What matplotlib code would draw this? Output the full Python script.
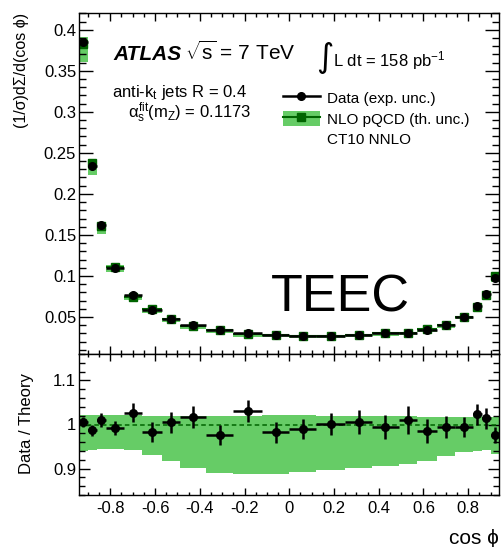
import numpy as np
import matplotlib
matplotlib.use("Agg")
import matplotlib.pyplot as plt
from matplotlib.lines import Line2D
from matplotlib.patches import Patch
from matplotlib.ticker import MultipleLocator, FormatStrFormatter

plt.rcParams['font.family'] = ['Liberation Sans', 'DejaVu Sans']
plt.rcParams['mathtext.fontset'] = 'custom'
plt.rcParams['mathtext.rm'] = 'Liberation Sans'
plt.rcParams['mathtext.it'] = 'Liberation Sans'
plt.rcParams['mathtext.bf'] = 'Liberation Sans:bold'

# cos(phi) bin edges
bin_edges = [-0.94, -0.90, -0.86, -0.82, -0.74, -0.66, -0.57, -0.49, -0.37, -0.25, -0.12, 0.0,
             0.12, 0.25, 0.37, 0.49, 0.57, 0.66, 0.74, 0.82, 0.86, 0.90, 0.94]

# measured TEEC (1/sigma dSigma/dcos phi)
data_vals = [0.385, 0.234, 0.162, 0.110, 0.0768, 0.0585, 0.0476, 0.0402, 0.0337, 0.0305, 0.0280,
             0.0272, 0.0272, 0.0280, 0.0300, 0.0309, 0.0345, 0.0398, 0.0500, 0.0638, 0.0784, 0.0971]

# data / theory and its experimental uncertainty
ratio_vals = [1.005, 0.987, 1.010, 0.992, 1.027, 0.983, 1.005, 1.017, 0.976, 1.030, 0.982,
              0.989, 1.001, 1.005, 0.994, 1.010, 0.985, 0.994, 0.994, 1.023, 1.014, 0.976]
ratio_errs = [0.011, 0.012, 0.016, 0.016, 0.021, 0.022, 0.024, 0.024, 0.023, 0.025, 0.023,
              0.023, 0.025, 0.027, 0.028, 0.031, 0.027, 0.025, 0.023, 0.024, 0.024, 0.018]

# theory uncertainty band (relative to theory)
band_lo = [0.940, 0.942, 0.944, 0.944, 0.942, 0.931, 0.918, 0.902, 0.891, 0.887, 0.888,
           0.892, 0.897, 0.902, 0.906, 0.911, 0.918, 0.928, 0.937, 0.940, 0.942, 0.933]
band_hi = [1.021, 1.021, 1.021, 1.021, 1.021, 1.020, 1.020, 1.020, 1.019, 1.019, 1.021,
           1.021, 1.020, 1.020, 1.019, 1.019, 1.018, 1.018, 1.018, 1.019, 1.018, 1.016]

light = '#66cc66'
dark = '#006400'

edges = np.array(bin_edges)
centers = 0.5 * (edges[1:] + edges[:-1])
halfw = 0.5 * np.diff(edges)
data = np.array(data_vals)
ratio = np.array(ratio_vals)
rerr = np.array(ratio_errs)
lo = np.array(band_lo)
hi = np.array(band_hi)
theory = data / ratio
data_err = data * rerr

W, H = 502, 547
fig = plt.figure(figsize=(W / 100, H / 100), dpi=100)


def fx(px):
    return px / W


def fy(py):
    return 1 - py / H


ax1 = fig.add_axes([fx(79), fy(354), fx(499.5) - fx(79), fy(13.3) - fy(354)])
ax2 = fig.add_axes([fx(79), fy(495), fx(499.5) - fx(79), fy(354) - fy(495)], sharex=ax1)

# upper panel
ax1.stairs(theory * hi, edges, baseline=theory * lo, fill=True, color=light, lw=0)
ax1.errorbar(centers, theory, xerr=halfw, fmt='s', color=dark, ms=5.5, elinewidth=1.5, capsize=0)
ax1.errorbar(centers, data, xerr=halfw, yerr=data_err, fmt='o', color='k', ms=5.5,
             elinewidth=1.8, capsize=0)
ax1.set_xlim(-0.94, 0.94)
ax1.set_ylim(0.005, 0.42)

# ratio panel
ax2.stairs(hi, edges, baseline=lo, fill=True, color=light, lw=0)
ax2.axhline(1.0, color=dark, ls=(0, (3, 2)), lw=1.1)
ax2.errorbar(centers, ratio, xerr=halfw, yerr=rerr, fmt='o', color='k', ms=5.5,
             elinewidth=1.8, capsize=0)
ax2.set_ylim(0.84, 1.16)

for ax in (ax1, ax2):
    ax.xaxis.set_major_locator(MultipleLocator(0.2))
    ax.xaxis.set_minor_locator(MultipleLocator(0.05))
    ax.xaxis.set_major_formatter(FormatStrFormatter('%g'))
    ax.yaxis.set_major_formatter(FormatStrFormatter('%g'))
    ax.tick_params(which='both', direction='in', top=True, right=True, width=1)
    for s in ax.spines.values():
        s.set_linewidth(1)

ax1.yaxis.set_major_locator(MultipleLocator(0.05))
ax1.yaxis.set_minor_locator(MultipleLocator(0.01))
ax1.tick_params(axis='y', which='major', length=10, labelsize=12, pad=2)
ax1.tick_params(axis='y', which='minor', length=5)
ax1.tick_params(axis='x', which='major', length=6)
ax1.tick_params(axis='x', which='minor', length=3)
ax1.tick_params(axis='x', labelbottom=False)

ax2.yaxis.set_major_locator(MultipleLocator(0.1))
ax2.yaxis.set_minor_locator(MultipleLocator(0.02))
ax2.tick_params(axis='y', which='major', length=8, labelsize=12, pad=2)
ax2.tick_params(axis='y', which='minor', length=4)
ax2.tick_params(axis='x', which='major', length=5, labelsize=12, pad=4)
ax2.tick_params(axis='x', which='minor', length=2.5)

# labels
fig.text(fx(21.7), fy(13), '(1/σ)dΣ/d(cos ϕ)', rotation=90, ha='center', va='top', fontsize=11.5)
fig.text(fx(26), fy(423), 'Data / Theory', rotation=90, ha='center', va='center', fontsize=12)
fig.text(fx(499), fy(544), 'cos ϕ', ha='right', va='baseline', fontsize=15)

fig.text(fx(113), fy(60), 'ATLAS', fontsize=15, fontweight='bold', fontstyle='italic', va='baseline')
fig.text(fx(185), fy(60), r'$\sqrt{s}$ = 7 TeV', fontsize=15, va='baseline')
fig.text(fx(316), fy(67), '∫', fontsize=24, family='DejaVu Sans', va='baseline')
fig.text(fx(333), fy(66.7), r'L dt = 158 pb$^{-1}$', fontsize=12, va='baseline')
fig.text(fx(112), fy(96.7), r'anti-k$_{t}$ jets R = 0.4', fontsize=12, va='baseline')
fig.text(fx(128), fy(118), r'$\alpha_{s}^{fit}(m_{Z})$ = 0.1173', fontsize=12, va='baseline')
fig.text(fx(271), fy(311.7), 'TEEC', fontsize=37.5, va='baseline')

# legend
h_data = Line2D([], [], color='k', marker='o', ms=5.5, lw=1.8)
h_th = (Patch(facecolor=light, edgecolor='none'),
        Line2D([], [], color=dark, marker='s', ms=5.5, lw=1.5))
h_blank = Line2D([], [], color='none')
ax1.legend([h_data, h_th, h_blank], ['Data (exp. unc.)', 'NLO pQCD (th. unc.)', 'CT10 NNLO'],
           loc='upper left', bbox_to_anchor=(fx(283), fy(90)), bbox_transform=fig.transFigure,
           frameon=False, fontsize=11, handlelength=2.4, handletextpad=0.5,
           labelspacing=0.3, borderpad=0, borderaxespad=0, handleheight=1.2)

fig.savefig('out.png', dpi=100)
